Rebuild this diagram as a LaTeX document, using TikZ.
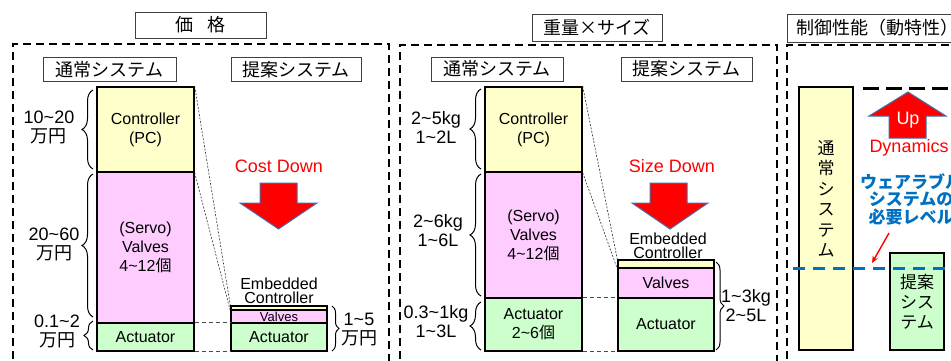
\documentclass[tikz,border=0pt]{standalone}
\usepackage{fontspec}
\setmainfont{Liberation Sans}
\newfontfamily\jp{Noto Sans CJK JP}
\usetikzlibrary{decorations.pathreplacing,arrows.meta}
\newcommand\wave{\textasciitilde}
\definecolor{cy}{RGB}{255,255,204}
\definecolor{cp}{RGB}{255,204,255}
\definecolor{cg}{RGB}{204,255,204}
\definecolor{ablue}{RGB}{70,110,175}
\definecolor{wblue}{RGB}{0,112,192}
\begin{document}
\begin{tikzpicture}[x=1pt,y=-1pt,
  ttl/.style={draw=black!75, line width=0.9pt, inner sep=0, font=\jp\fontsize{18}{20}\selectfont},
  frm/.style={draw, line width=2pt, dash pattern=on 8pt off 5pt},
  blk/.style={draw, line width=1.4pt, inner sep=0, font=\fontsize{16}{19}\selectfont, align=center},
  yb/.style={blk, fill=cy},
  pb/.style={blk, fill=cp},
  gb/.style={blk, fill=cg},
  brc/.style={draw, line width=1pt, decorate, decoration={brace, amplitude=#1}},
  lab/.style={inner sep=0, align=center, font=\fontsize{18}{19}\selectfont},
  dotl/.style={draw, line width=0.6pt, dash pattern=on 2pt off 1.5pt, black!80},
  hdash/.style={draw, line width=0.8pt, dash pattern=on 4pt off 3pt, black!70},
  bigarr/.style={fill=red, draw=ablue, line width=1pt},
  red18/.style={inner sep=0, text=red, font=\fontsize{18}{20}\selectfont},
  emb/.style={inner sep=0, align=center, font=\fontsize{16}{14}\selectfont}
]
\useasboundingbox (0,0) rectangle (951,360);
\clip (0,0) rectangle (951,360);

% ---------------- Panel 1 : price ----------------
\node[ttl, minimum width=131, minimum height=26] (t1) at (200.5,25) {価\hspace{14pt}格};
\draw[frm] (13,372) -- (13,44) -- (389,44) -- (389,372);
\node[ttl, minimum width=133, minimum height=24] (s1a) at (109.5,69.5) {通常システム};
\node[ttl, minimum width=130, minimum height=24] (s1b) at (296,69.5) {提案システム};

\node[yb, minimum width=97, minimum height=85] (c1) at (145.5,129.5) {Controller\\(PC)};
\node[pb, minimum width=97, minimum height=151] (v1) at (145.5,247.5) {(Servo)\\Valves\\4\wave12{\jp 個}};
\node[gb, minimum width=97, minimum height=28] (a1) at (145.5,337) {Actuator};

\node[blk, fill=cy, minimum width=96, minimum height=4] (e1) at (279,308) {};
\node[blk, fill=cp, minimum width=96, minimum height=13, font=\fontsize{13}{13}\selectfont] (pv1) at (279,316.5) {Valves};
\node[gb, minimum width=96, minimum height=28] (pa1) at (279,337) {Actuator};
\node[emb] (el1) at (279,291) {Embedded\\Controller};

\draw[dotl] (c1.north east) -- (e1.north west);
\draw[dotl] (c1.south east) -- (e1.south west);
\draw[hdash] (a1.north east) -- (pa1.north west);
\draw[hdash] (a1.south east) -- (pa1.south west);

\draw[brc=11pt] (93,169) -- (93,90);
\draw[brc=11pt] (93,317) -- (93,174);
\draw[brc=9pt] (93,350) -- (93,321);
\draw[brc=7pt] (332,306) -- (332,351);
\node[lab] (l1a) at (49,127) {10\wave20\\{\jp 万円}};
\node[lab] (l1b) at (54,244) {20\wave60\\{\jp 万円}};
\node[lab] (l1c) at (57,331) {0.1\wave2\\{\jp 万円}};
\node[lab] (l1d) at (359,330) {1\wave5\\{\jp 万円}};

\node[red18] (cd) at (279,166) {Cost Down};
\path[bigarr] (260,183) -- (297,183) -- (297,203) -- (317,203) -- (278.5,229) -- (240,203) -- (260,203) -- cycle;

% ---------------- Panel 2 : weight x size ----------------
\node[ttl, minimum width=130, minimum height=27] (t2) at (597,27.5) {重量×サイズ};
\draw[frm] (400,372) -- (400,45) -- (777,45) -- (777,372);
\node[ttl, minimum width=132, minimum height=24] (s2a) at (497,69) {通常システム};
\node[ttl, minimum width=131, minimum height=24] (s2b) at (686.5,69) {提案システム};

\node[yb, minimum width=97, minimum height=85] (c2) at (533.5,129.5) {Controller\\(PC)};
\node[pb, minimum width=97, minimum height=126] (v2) at (533.5,235) {(Servo)\\Valves\\4\wave12{\jp 個}};
\node[gb, minimum width=97, minimum height=53] (a2) at (533.5,324.5) {Actuator\\2\wave6{\jp 個}};

\node[blk, fill=cy, minimum width=96, minimum height=8] (e2) at (666,264) {};
\node[pb, minimum width=96, minimum height=30] (pv2) at (666,283) {Valves};
\node[gb, minimum width=96, minimum height=53] (pa2) at (666,324.5) {Actuator};
\node[emb] (el2) at (668,246) {Embedded\\Controller};

\draw[dotl] (c2.north east) -- (e2.north west);
\draw[dotl] (c2.south east) -- (e2.south west);
\draw[hdash] (a2.north east) -- (pa2.north west);
\draw[hdash] (a2.south east) -- (pa2.south west);

\draw[brc=11pt] (481,169) -- (481,89);
\draw[brc=11pt] (481,296) -- (481,174);
\draw[brc=11pt] (481,350) -- (481,302);
\draw[brc=8pt] (716,262) -- (716,350);
\node[lab] (l2a) at (436,127) {2\wave5kg\\1\wave2L};
\node[lab] (l2b) at (438,231) {2\wave6kg\\1\wave6L};
\node[lab] (l2c) at (436,322) {0.3\wave1kg\\1\wave3L};
\node[lab] (l2d) at (746,306) {1\wave3kg\\2\wave5L};

\node[red18] (sd) at (672,166) {Size Down};
\path[bigarr] (650,183) -- (687,183) -- (687,203) -- (708,203) -- (670,229) -- (632,203) -- (650,203) -- cycle;

% ---------------- Panel 3 : control performance ----------------
\node[ttl, minimum height=28, inner xsep=9, anchor=west] (t3) at (787,28) {制御性能（動特性）};
\draw[frm] (787,372) -- (787,45) -- (960,45);

\node[yb, minimum width=54, minimum height=263] (n3) at (826,218.5) {};
\node[inner sep=0, align=center, font=\jp\fontsize{17}{20.5}\selectfont] (n3t) at (826,199) {通\\常\\シ\\ス\\テ\\ム};
\node[gb, minimum width=54, minimum height=97, font=\jp\fontsize{17}{20}\selectfont] (p3) at (917,301.5) {提案\\シス\\テム};

\coordinate (k0) at (863,88);
\coordinate (k1) at (960,88);
\draw[line width=3pt, dash pattern=on 16pt off 7pt] (k0) -- (k1);

\path[bigarr] (908,92) -- (946,116) -- (926,116) -- (926,138) -- (889,138) -- (889,116) -- (869,116) -- cycle;
\node[inner sep=0, text=white, font=\fontsize{18}{20}\selectfont] (up) at (908,120) {Up};
\node[red18] (dyn) at (909,148) {Dynamics};

\node[inner sep=0, align=center, text=wblue, font=\jp\bfseries\fontsize{17}{17.5}\selectfont] (wl) at (911,199) {ウェアラブル\\システムの\\必要レベル};

\coordinate (b0) at (793,268);
\coordinate (b1) at (960,268);
\draw[wblue, line width=3pt, dash pattern=on 12pt off 8pt] (b0) -- (b1);

\coordinate (r0) at (889,233);
\coordinate (r1) at (872,263);
\draw[red, line width=1.4pt, -{Stealth[length=7pt,width=6pt]}] (r0) -- (r1);
\end{tikzpicture}
\end{document}
